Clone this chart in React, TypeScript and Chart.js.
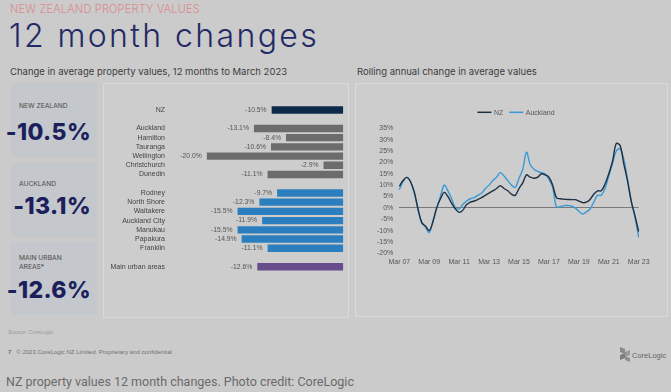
import React, { useEffect, useRef } from 'react';
import { Chart, registerables } from 'chart.js';

Chart.register(...registerables);

// ---------- Bar chart data (12 month change to March 2023) ----------
const barCategories = [
  'NZ', '',
  'Auckland', 'Hamilton', 'Tauranga', 'Wellington', 'Christchurch', 'Dunedin', '',
  'Rodney', 'North Shore', 'Waitakere', 'Auckland City', 'Manukau', 'Papakura', 'Franklin', '',
  'Main urban areas',
];
const barValues: (number | null)[] = [
  -10.5, null,
  -13.1, -8.4, -10.6, -20.0, -2.9, -11.1, null,
  -9.7, -12.3, -15.5, -11.9, -15.5, -14.9, -11.1, null,
  -12.6,
];
const barGroups = [
  'nz', '',
  'city', 'city', 'city', 'city', 'city', 'city', '',
  'akl', 'akl', 'akl', 'akl', 'akl', 'akl', 'akl', '',
  'urban',
];
const groupColors: Record<string, string> = {
  nz: '#0e2a4b',
  city: '#6c6c6c',
  akl: '#2b7fbe',
  urban: '#694c8b',
};

// ---------- Line chart data (rolling annual change, quarterly) ----------
const lineYears = ['07', '08', '09', '10', '11', '12', '13', '14', '15', '16', '17', '18', '19', '20', '21', '22'];
const quarterMonths = ['Mar', 'Jun', 'Sep', 'Dec'];
const lastLabel = 'Mar 23';
const xTickLabels = ['Mar 07', 'Mar 09', 'Mar 11', 'Mar 13', 'Mar 15', 'Mar 17', 'Mar 19', 'Mar 21', 'Mar 23'];
const nzValues = [
  9.5, 12, 13.4, 11.5,
  7, -0.5, -6.5, -8,
  -10, -6, 0, 4,
  6.8, 5, 2, -0.5,
  -2, -1, 1.5, 2.5,
  3, 3.7, 4.5, 5.5,
  6.5, 7.5, 8.5, 9.7,
  8.5, 7.5, 6, 5.5,
  8.5, 11, 14.5, 13.5,
  13, 13.5, 15, 14.5,
  13.5, 10, 4.5, 4,
  3.8, 3.7, 3.6, 3.6,
  3, 2.3, 2.5, 3.7,
  6, 7.5, 7.5, 10.5,
  15, 20.5, 28.3, 27.5,
  19.5, 12, 3, -3.5,
  -10.5,
];
const aklValues = [
  8, 11.5, 13.4, 11.5,
  6.5, -0.5, -6.5, -8.5,
  -10.8, -6, 0, 5,
  10, 7.5, 4, 0,
  -0.5, 1.5, 3, 4,
  4.5, 5.5, 6.5, 8.5,
  10, 12, 13.5, 15.5,
  14, 12, 10, 9,
  13, 17, 24.5, 19,
  17, 16, 15.5, 15,
  12.5, 9, 0.5, 0.5,
  1, 1, 0.8, 0,
  -1.5, -2.7, -1.8, -0.5,
  2.5, 5.5, 5.5, 8.5,
  14, 19.5, 25, 26,
  21.5, 12.5, 3, -4,
  -13,
];
const yMin = -20;
const yMax = 35;
const yStep = 5;

const quarterLabels: string[] = [];
lineYears.forEach((y) => quarterMonths.forEach((m) => quarterLabels.push(`${m} ${y}`)));
quarterLabels.push(lastLabel);

const nzColor = '#1d3146';
const aklColor = '#3a9ad5';
const calibri = 'Liberation Sans';

const barValuePlugin = {
  id: 'barValues',
  afterDatasetsDraw(chart: any) {
    const ctx = chart.ctx;
    const meta = chart.getDatasetMeta(0);
    ctx.save();
    ctx.font = `6.8px "${calibri}"`;
    ctx.fillStyle = '#555';
    ctx.textAlign = 'right';
    ctx.textBaseline = 'middle';
    meta.data.forEach((bar: any, i: number) => {
      const v = barValues[i];
      if (v == null) return;
      ctx.fillText(`${v.toFixed(1)}%`, bar.x - 5, bar.y);
    });
    ctx.restore();
  },
};

const lineLegendPlugin = {
  id: 'lineLegend',
  afterDraw(chart: any) {
    const ctx = chart.ctx;
    const area = chart.chartArea;
    ctx.save();
    ctx.font = `7px "${calibri}"`;
    ctx.textBaseline = 'middle';
    const sample = 14;
    const gap = 2.5;
    const spacing = 6;
    const items = chart.data.datasets.map((d: any) => ({
      label: d.label,
      color: d.borderColor,
      w: sample + gap + ctx.measureText(d.label).width,
    }));
    const total = items.reduce((s: number, it: any) => s + it.w, 0) + spacing * (items.length - 1);
    let x = (area.left + area.right) / 2 - total / 2 - 3;
    const y = 28.3;
    items.forEach((it: any) => {
      ctx.strokeStyle = it.color;
      ctx.lineWidth = 1.5;
      ctx.beginPath();
      ctx.moveTo(x, y);
      ctx.lineTo(x + sample, y);
      ctx.stroke();
      ctx.fillStyle = '#555';
      ctx.fillText(it.label, x + sample + gap, y + 0.3);
      x += it.w + spacing;
    });
    ctx.restore();
  },
};

function BarChart() {
  const ref = useRef<HTMLCanvasElement>(null);
  useEffect(() => {
    if (!ref.current) return;
    const chart = new Chart(ref.current, {
      type: 'bar',
      data: {
        labels: barCategories,
        datasets: [
          {
            data: barValues,
            backgroundColor: barGroups.map((g) => groupColors[g] || 'transparent'),
            borderWidth: 0,
            categoryPercentage: 1,
            barPercentage: 0.8,
          },
        ],
      },
      options: {
        indexAxis: 'y',
        animation: false,
        responsive: false,
        maintainAspectRatio: false,
        layout: { padding: { top: 21.4, bottom: 45.7, left: 0, right: 4.7 } },
        plugins: { legend: { display: false }, tooltip: { enabled: false } },
        scales: {
          x: { display: false, min: -25.4, max: 0 },
          y: {
            afterFit: (s: any) => {
              s.width = 66;
            },
            grid: { display: false, drawTicks: false },
            border: { display: false },
            ticks: {
              autoSkip: false,
              padding: 5,
              color: '#444',
              font: { family: calibri, size: 7 },
            },
          },
        },
      } as any,
      plugins: [barValuePlugin],
    });
    return () => chart.destroy();
  }, []);
  return <canvas ref={ref} width={244} height={233} style={{ position: 'absolute', left: 104, top: 84, width: 244, height: 233 }} />;
}

function LineChart() {
  const ref = useRef<HTMLCanvasElement>(null);
  useEffect(() => {
    if (!ref.current) return;
    const chart = new Chart(ref.current, {
      type: 'line',
      data: {
        labels: quarterLabels,
        datasets: [
          { label: 'NZ', data: nzValues, borderColor: nzColor, borderWidth: 1.4, pointRadius: 0, tension: 0.35, fill: false },
          { label: 'Auckland', data: aklValues, borderColor: aklColor, borderWidth: 1.4, pointRadius: 0, tension: 0.35, fill: false },
        ],
      },
      options: {
        animation: false,
        responsive: false,
        maintainAspectRatio: false,
        layout: { padding: { top: 44.3, right: 27.3, left: 0, bottom: 0 } },
        plugins: { legend: { display: false }, tooltip: { enabled: false } },
        scales: {
          x: {
            type: 'category',
            offset: false,
            afterFit: (s: any) => {
              s.height = 61.7;
            },
            grid: { display: false, drawTicks: false },
            border: { display: false },
            ticks: {
              autoSkip: false,
              maxRotation: 0,
              minRotation: 0,
              padding: 5,
              color: '#555',
              font: { family: calibri, size: 7 },
              callback: (_v: any, i: number) => (xTickLabels.includes(quarterLabels[i]) ? quarterLabels[i] : null),
            },
          },
          y: {
            min: yMin,
            max: yMax,
            afterFit: (s: any) => {
              s.width = 43.3;
            },
            grid: {
              drawTicks: false,
              color: (c: any) => (c.tick && c.tick.value === 0 ? '#7a7a7a' : 'rgba(0,0,0,0)'),
              lineWidth: 1,
            },
            border: { display: false },
            ticks: {
              stepSize: yStep,
              maxTicksLimit: 20,
              autoSkip: false,
              padding: 6,
              color: '#555',
              font: { family: calibri, size: 7 },
              callback: (v: any) => `${v}%`,
            },
          },
        },
      } as any,
      plugins: [lineLegendPlugin],
    });
    return () => chart.destroy();
  }, []);
  return <canvas ref={ref} width={310} height={231} style={{ position: 'absolute', left: 356, top: 84, width: 310, height: 231 }} />;
}

const abs = (l: number, t: number, extra: React.CSSProperties = {}): React.CSSProperties => ({
  position: 'absolute',
  left: l,
  top: t,
  whiteSpace: 'nowrap',
  ...extra,
});

function StatBox({ top, height, lines, value, labelTop, valueTop }: any) {
  return (
    <div style={abs(11, top, { width: 86, height, background: '#c4c7cc' })}>
      <div style={abs(8, labelTop, { fontFamily: 'Inter', fontSize: 6.7, lineHeight: '8.5px', color: '#4a4a4a' })}>
        {lines.map((l: string) => (
          <div key={l}>{l}</div>
        ))}
      </div>
      <div
        style={abs(0, valueTop, {
          left: 'auto',
          right: 6,
          fontFamily: 'Inter',
          fontWeight: 800,
          fontSize: 23,
          lineHeight: '23px',
          letterSpacing: 0.4,
          color: '#1b1f5c',
        })}
      >
        {value}
      </div>
    </div>
  );
}

export default function App() {
  return (
    <div
      style={{
        position: 'absolute',
        left: 0,
        top: 0,
        width: 671,
        height: 392,
        background: '#cbcbcb',
        overflow: 'hidden',
        fontFamily: 'Inter',
      }}
    >
      <div style={abs(10, 3, { fontSize: 11, lineHeight: '13px', fontWeight: 300, color: '#dc8a8c', letterSpacing: 0.2 })}>NEW ZEALAND PROPERTY VALUES</div>
      <div style={abs(9, 17, { fontSize: 32, lineHeight: '37px', fontWeight: 300, color: '#232965', letterSpacing: 2.4 })}>12 month changes</div>
      <div style={abs(10, 66, { fontSize: 9.5, lineHeight: '12px', color: '#3d3d3d' })}>Change in average property values, 12 months to March 2023</div>
      <div style={abs(357, 66, { fontSize: 9.5, lineHeight: '12px', color: '#3d3d3d' })}>Rolling annual change in average values</div>

      <StatBox top={83} height={74} lines={['NEW ZEALAND']} value="-10.5%" labelTop={19} valueTop={38} />
      <StatBox top={163} height={74} lines={['AUCKLAND']} value="-13.1%" labelTop={17} valueTop={32} />
      <StatBox top={242} height={73} lines={['MAIN URBAN', 'AREAS*']} value="-12.6%" labelTop={12} valueTop={37} />

      <div style={abs(103, 83, { width: 244, height: 233, border: '1px solid #d9d9d9', background: '#cdcdcd' })} />
      <div style={abs(355, 83, { width: 311, height: 232, border: '1px solid #d9d9d9', background: '#cdcdcd' })} />
      <BarChart />
      <LineChart />

      <div style={abs(8, 329, { fontFamily: 'Liberation Sans', fontSize: 5.5, lineHeight: '7px', color: '#9a9a9a', fontStyle: 'italic' })}>Source: CoreLogic</div>
      <div style={abs(8, 348, { fontFamily: 'Liberation Sans', fontSize: 6, lineHeight: '8px', color: '#707070' })}>
        <b>7</b>&nbsp;&nbsp;&nbsp;© 2023 CoreLogic NZ Limited. Proprietary and confidential
      </div>
      <div style={abs(620, 348, { width: 11, height: 14 })}>
        <div style={abs(0, 0, { width: 5, height: 5, background: '#8a8a8a', transform: 'skewY(20deg)' })} />
        <div style={abs(5, 3, { width: 5, height: 5, background: '#9a9a9a', transform: 'skewY(-20deg)' })} />
        <div style={abs(0, 6, { width: 5, height: 5, background: '#7d7d7d', transform: 'skewY(-20deg)' })} />
        <div style={abs(5, 9, { width: 5, height: 4, background: '#8e8e8e', transform: 'skewY(20deg)' })} />
      </div>
      <div style={abs(632, 351, { fontFamily: 'Liberation Sans', fontSize: 7.5, lineHeight: '9px', color: '#666' })}>CoreLogic</div>
      <div style={abs(6, 374, { fontFamily: 'Roboto', fontSize: 12.5, lineHeight: '16px', color: '#6a6a6a' })}>
        NZ property values 12 month changes. Photo credit: CoreLogic
      </div>
    </div>
  );
}
